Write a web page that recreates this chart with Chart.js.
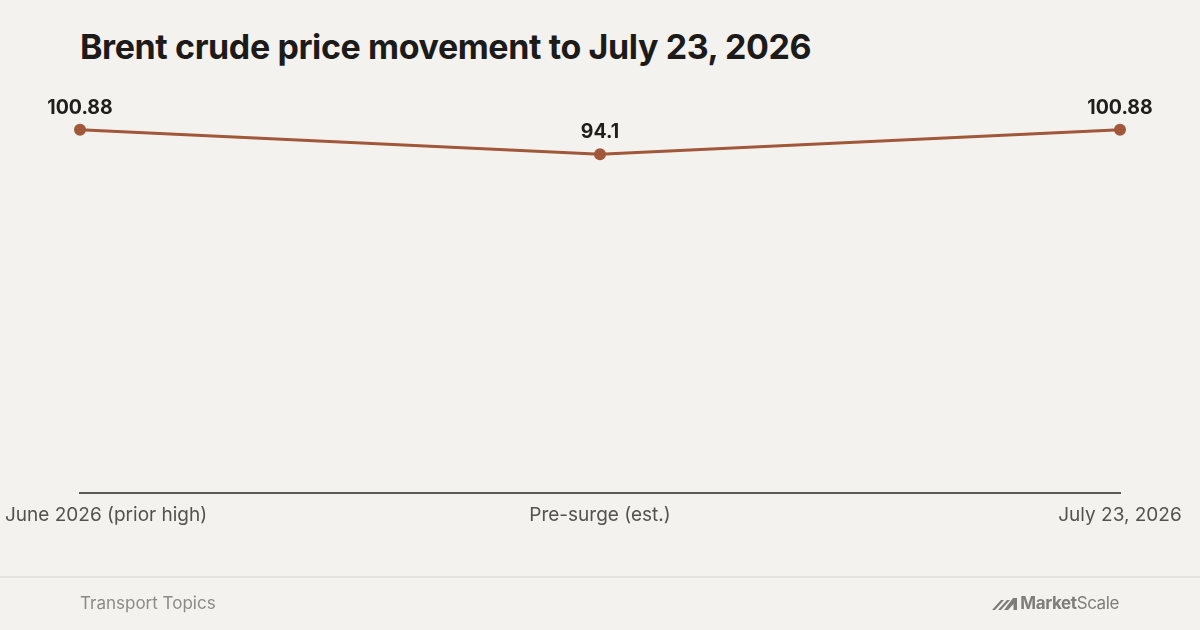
<!DOCTYPE html>
<html>
<head>
<meta charset="utf-8">
<script src="https://cdn.jsdelivr.net/npm/chart.js@4"></script>
<style>
  html, body { margin: 0; padding: 0; }
  body { width: 1200px; height: 630px; background: #f4f2ee; position: relative; overflow: hidden; font-family: Inter, "Noto Sans", sans-serif; }
  #title { position: absolute; left: 80px; top: 26px; font-size: 34px; font-weight: 700; color: #1c1b1a; letter-spacing: -0.4px; white-space: nowrap; }
  #chartBox { position: absolute; left: 0; top: 0; width: 1200px; height: 630px; }
  #footLine { position: absolute; left: 0; top: 576px; width: 1200px; height: 2px; background: #e5e2dd; }
  #source { position: absolute; left: 80px; top: 593px; font-size: 17px; color: #8d8a85; }
  #brand { position: absolute; right: 81px; top: 593px; font-size: 17px; color: #7f7d7a; display: flex; align-items: center; letter-spacing: -0.4px; }
  #brand svg { margin-right: 2px; }
</style>
</head>
<body>
<div id="title">Brent crude price movement to July 23, 2026</div>
<div id="chartBox"><canvas id="myChart" width="1200" height="630"></canvas></div>
<div id="footLine"></div>
<div id="source">Transport Topics</div>
<div id="brand">
  <svg width="26" height="13" viewBox="0 0 26 13"><path d="M0 13 L9 3 L12 3 L3 13 Z M6 13 L15 3 L18 3 L9 13 Z M12 13 L21 1 L25 1 L25 13 L21.5 13 L21.5 7 L16 13 Z" fill="#7f7d7a"/></svg>
  <b style="font-weight:700">Market</b><span>Scale</span>
</div>
<script>
var categories = ['June 2026 (prior high)', 'Pre-surge (est.)', 'July 23, 2026'];
var prices = [100.88, 94.1, 100.88];
var priceLabels = ['100.88', '94.1', '100.88'];

var lineColor = '#a0573a';

// value labels above each point
var pointLabels = {
  id: 'pointLabels',
  afterDatasetsDraw: function (chart) {
    var ctx = chart.ctx;
    var meta = chart.getDatasetMeta(0);
    ctx.save();
    ctx.font = '700 19.5px Inter, "Noto Sans", sans-serif';
    ctx.fillStyle = '#1f1e1c';
    ctx.textAlign = 'center';
    ctx.textBaseline = 'middle';
    meta.data.forEach(function (pt, i) {
      ctx.fillText(priceLabels[i], pt.x, pt.y - 22);
    });
    ctx.restore();
  }
};

// category labels under the axis, kept inside the canvas
var categoryLabels = {
  id: 'categoryLabels',
  afterDraw: function (chart) {
    var ctx = chart.ctx;
    var xs = chart.scales.x;
    var y = chart.chartArea.bottom + 22;
    ctx.save();
    ctx.font = '19px Inter, "Noto Sans", sans-serif';
    ctx.fillStyle = '#55514c';
    ctx.textBaseline = 'middle';
    ctx.textAlign = 'left';
    categories.forEach(function (c, i) {
      var w = ctx.measureText(c).width;
      var x = xs.getPixelForValue(i) - w / 2;
      if (x < 5) x = 5;
      if (x + w > chart.width - 5) x = chart.width - 5 - w;
      ctx.fillText(c, x, y);
    });
    ctx.restore();
  }
};

function createChart() {
  var ctx = document.getElementById('myChart');
  return new Chart(ctx, {
    type: 'line',
    data: {
      labels: categories,
      datasets: [{
        data: prices,
        borderColor: lineColor,
        backgroundColor: lineColor,
        borderWidth: 3,
        pointRadius: 6,
        pointHoverRadius: 6,
        pointBackgroundColor: lineColor,
        pointBorderWidth: 0,
        tension: 0
      }]
    },
    options: {
      responsive: false,
      animation: false,
      devicePixelRatio: 1,
      layout: { padding: { left: 80, right: 80, top: 97, bottom: 137 } },
      plugins: { legend: { display: false }, tooltip: { enabled: false } },
      scales: {
        x: {
          offset: false,
          ticks: { display: false },
          grid: { display: true, drawOnChartArea: false, drawTicks: false, color: 'rgba(0,0,0,0)' },
          border: { display: true, color: '#5d5851', width: 2 }
        },
        y: {
          display: false,
          min: 0,
          max: 110
        }
      }
    },
    plugins: [pointLabels, categoryLabels]
  });
}

createChart();
</script>
</body>
</html>
